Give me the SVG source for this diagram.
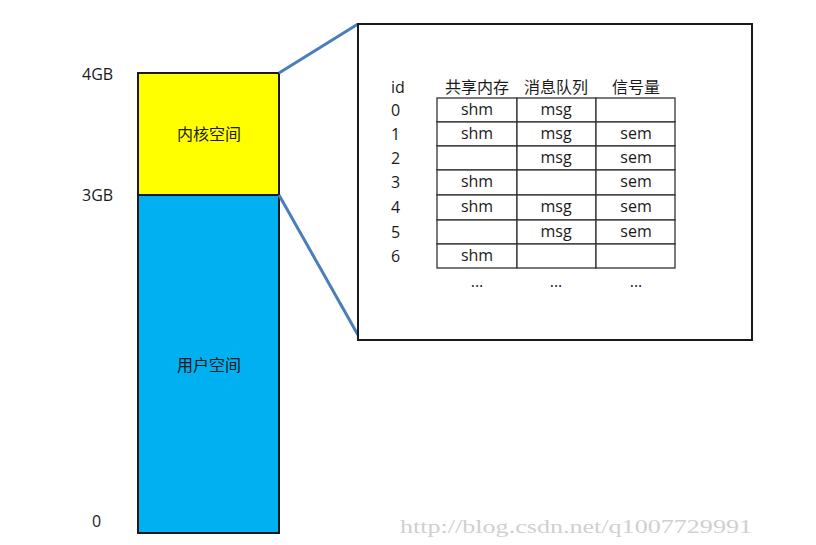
<svg xmlns="http://www.w3.org/2000/svg" width="816" height="545" viewBox="0 0 816 545">
<style>
.t{font-family:"Open Sans","Noto Sans CJK SC",sans-serif;font-size:16px;fill:#1a1a1a}
.c{text-anchor:middle}
.cell{fill:#fff;stroke:#333;stroke-width:1.3}
.blk{stroke:#1a1a1a;stroke-width:2}
.link{stroke:#4a7ebb;stroke-width:3;fill:none}
</style>
<rect width="816" height="545" fill="#fff"/>
<g id="kernel">
<rect class="blk" x="138" y="73" width="141" height="122" fill="#ffff00"/>
<text class="t c" x="209" y="140">内核空间</text>
</g>
<g id="user">
<rect class="blk" x="138" y="195" width="141" height="338" fill="#00b0f0"/>
<text class="t c" x="209" y="371">用户空间</text>
</g>
<g id="labels">
<text class="t" x="82" y="80">4GB</text>
<text class="t" x="82" y="201">3GB</text>
<text class="t" x="92" y="527">0</text>
</g>
<g id="connectors">
<line class="link" x1="279" y1="73" x2="358" y2="24"/>
<line class="link" x1="279" y1="195" x2="358" y2="335"/>
</g>
<g id="ipc-table">
<rect x="358" y="24" width="394" height="316" fill="#fff" stroke="#1a1a1a" stroke-width="2"/>
<text class="t" x="391" y="93">id</text>
<text class="t c" x="477" y="93">共享内存</text>
<text class="t c" x="556" y="93">消息队列</text>
<text class="t c" x="636" y="93">信号量</text>
<g>
<rect class="cell" x="437" y="98" width="80" height="24"/><rect class="cell" x="517" y="98" width="79" height="24"/><rect class="cell" x="596" y="98" width="79" height="24"/>
<rect class="cell" x="437" y="122" width="80" height="24"/><rect class="cell" x="517" y="122" width="79" height="24"/><rect class="cell" x="596" y="122" width="79" height="24"/>
<rect class="cell" x="437" y="146" width="80" height="24"/><rect class="cell" x="517" y="146" width="79" height="24"/><rect class="cell" x="596" y="146" width="79" height="24"/>
<rect class="cell" x="437" y="170" width="80" height="25"/><rect class="cell" x="517" y="170" width="79" height="25"/><rect class="cell" x="596" y="170" width="79" height="25"/>
<rect class="cell" x="437" y="195" width="80" height="25"/><rect class="cell" x="517" y="195" width="79" height="25"/><rect class="cell" x="596" y="195" width="79" height="25"/>
<rect class="cell" x="437" y="220" width="80" height="24"/><rect class="cell" x="517" y="220" width="79" height="24"/><rect class="cell" x="596" y="220" width="79" height="24"/>
<rect class="cell" x="437" y="244" width="80" height="24"/><rect class="cell" x="517" y="244" width="79" height="24"/><rect class="cell" x="596" y="244" width="79" height="24"/>
</g>
<text class="t" x="391" y="116">0</text>
<text class="t" x="391" y="140">1</text>
<text class="t" x="391" y="164">2</text>
<text class="t" x="391" y="188">3</text>
<text class="t" x="391" y="213">4</text>
<text class="t" x="391" y="238">5</text>
<text class="t" x="391" y="262">6</text>
<text class="t c" x="477" y="115">shm</text><text class="t c" x="556" y="115">msg</text>
<text class="t c" x="477" y="139">shm</text><text class="t c" x="556" y="139">msg</text><text class="t c" x="636" y="139">sem</text>
<text class="t c" x="556" y="163">msg</text><text class="t c" x="636" y="163">sem</text>
<text class="t c" x="477" y="187">shm</text><text class="t c" x="636" y="187">sem</text>
<text class="t c" x="477" y="212">shm</text><text class="t c" x="556" y="212">msg</text><text class="t c" x="636" y="212">sem</text>
<text class="t c" x="556" y="237">msg</text><text class="t c" x="636" y="237">sem</text>
<text class="t c" x="477" y="261">shm</text>
<text class="t c" x="477" y="287" font-size="12">...</text><text class="t c" x="556" y="287" font-size="12">...</text><text class="t c" x="636" y="287" font-size="12">...</text>
</g>
<text x="400" y="533" font-family="Liberation Serif,serif" font-size="19" fill="#d0d0d0" textLength="352" lengthAdjust="spacingAndGlyphs">http://blog.csdn.net/q1007729991</text>
</svg>
